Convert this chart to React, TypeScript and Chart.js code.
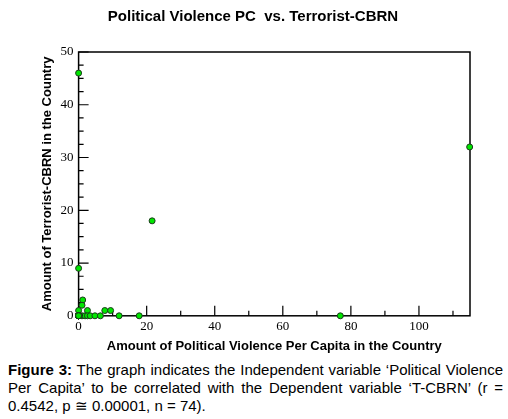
import React, { useEffect, useRef } from 'react';
import { Chart, registerables } from 'chart.js';

Chart.register(...registerables);

// x: political violence per capita, y: terrorist-CBRN count (n = 74)
const polViolencePC: number[] = [
  0, 0, 1.2, 1.0, 0, 2.6, 7.7, 9.4, 1.0, 1.9,
  2.6, 3.4, 4.8, 6.4, 11.9, 17.8, 21.6, 76.9, 114.9, 0,
  0, 0, 0, 0, 0, 0, 0, 0, 0, 0,
  0, 0, 0, 0, 0, 0, 0, 0, 0, 0,
  0, 0, 0, 0, 0, 0, 0, 0, 0, 0,
  0, 0, 0, 0, 0, 0, 0, 0, 0, 0,
  0, 0, 0, 0, 0, 0, 0, 0, 0, 0,
  0, 0, 0, 0,
];
const terroristCBRN: number[] = [
  46, 9, 3, 2, 1, 1, 1, 1, 0, 0,
  0, 0, 0, 0, 0, 0, 18, 0, 32, 0,
  0, 0, 0, 0, 0, 0, 0, 0, 0, 0,
  0, 0, 0, 0, 0, 0, 0, 0, 0, 0,
  0, 0, 0, 0, 0, 0, 0, 0, 0, 0,
  0, 0, 0, 0, 0, 0, 0, 0, 0, 0,
  0, 0, 0, 0, 0, 0, 0, 0, 0, 0,
  0, 0, 0, 0,
];

const xMajorTicks = [0, 20, 40, 60, 80, 100];
const xMinorTicks = [10, 30, 50, 70, 90, 110];
const yMajorTicks = [0, 10, 20, 30, 40, 50];
const yMinorTicks = [2.5, 5, 7.5, 12.5, 15, 17.5, 22.5, 25, 27.5, 32.5, 35, 37.5, 42.5, 45, 47.5];

const sans = 'Liberation Sans, Arial, sans-serif';
const serif = 'Liberation Serif, Times New Roman, serif';

// draws the boxed frame with inward major/minor ticks
const frameTicks = {
  id: 'frameTicks',
  beforeDatasetsDraw(chart: any) {
    const { ctx, chartArea: a, scales } = chart;
    const xs = scales.x;
    const ys = scales.y;
    ctx.save();
    ctx.strokeStyle = '#000';
    ctx.lineWidth = 1.5;
    ctx.strokeRect(a.left, a.top, a.right - a.left, a.bottom - a.top);
    ctx.lineWidth = 1.2;
    ctx.beginPath();
    xMajorTicks.forEach((v) => {
      const px = xs.getPixelForValue(v);
      ctx.moveTo(px, a.bottom);
      ctx.lineTo(px, a.bottom - 10);
    });
    xMinorTicks.forEach((v) => {
      const px = xs.getPixelForValue(v);
      ctx.moveTo(px, a.bottom);
      ctx.lineTo(px, a.bottom - 5);
    });
    yMajorTicks.forEach((v) => {
      const py = ys.getPixelForValue(v);
      ctx.moveTo(a.left, py);
      ctx.lineTo(a.left + 10, py);
    });
    yMinorTicks.forEach((v) => {
      const py = ys.getPixelForValue(v);
      ctx.moveTo(a.left, py);
      ctx.lineTo(a.left + 5, py);
    });
    ctx.stroke();
    ctx.restore();
  },
};

const App: React.FC = () => {
  const canvasRef = useRef<HTMLCanvasElement>(null);

  useEffect(() => {
    if (!canvasRef.current) return;
    const chart = new Chart(canvasRef.current, {
      type: 'scatter',
      data: {
        datasets: [{
          data: polViolencePC.map((x, i) => ({ x, y: terroristCBRN[i] })),
          backgroundColor: '#00e600',
          borderColor: '#1a3a1a',
          borderWidth: 1,
          pointRadius: 3,
          clip: false,
        } as any],
      },
      options: {
        animation: false,
        responsive: false,
        events: [],
        layout: { padding: { left: 36, right: 38, top: 0, bottom: 3 } },
        plugins: {
          legend: { display: false },
          tooltip: { enabled: false },
          title: {
            display: true,
            text: 'Political Violence PC  vs. Terrorist-CBRN',
            color: '#000',
            font: { family: sans, size: 15, weight: 'bold' },
            padding: { top: 8, bottom: 26 },
          },
        },
        scales: {
          x: {
            type: 'linear',
            min: 0,
            max: 115,
            grid: { display: false, drawTicks: false },
            border: { display: false },
            afterBuildTicks: (s: any) => {
              s.ticks = xMajorTicks.map((value) => ({ value }));
            },
            ticks: { color: '#000', padding: 3, font: { family: serif, size: 13 } },
            title: {
              display: true,
              text: 'Amount of Political Violence Per Capita in the Country',
              color: '#000',
              font: { family: sans, size: 13, weight: 'bold' },
              padding: { top: 1, bottom: 3 },
            },
          },
          y: {
            type: 'linear',
            min: 0,
            max: 50,
            grid: { display: false, drawTicks: false },
            border: { display: false },
            afterBuildTicks: (s: any) => {
              s.ticks = yMajorTicks.map((value) => ({ value }));
            },
            ticks: { color: '#000', padding: 5, font: { family: serif, size: 13 } },
            title: {
              display: true,
              text: 'Amount of Terrorist-CBRN in the Country',
              color: '#000',
              font: { family: sans, size: 13, weight: 'bold' },
              padding: { top: 4, bottom: 0 },
            },
          },
        },
      },
      plugins: [frameTicks],
    });
    return () => chart.destroy();
  }, []);

  return (
    <div style={{ position: 'absolute', left: 0, top: 0, width: 508, height: 419, background: '#fff' }}>
      <canvas ref={canvasRef} width={508} height={360} style={{ display: 'block' }} />
      <div
        style={{
          position: 'absolute',
          left: 8,
          top: 361,
          width: 495,
          fontFamily: sans,
          fontSize: 15,
          lineHeight: '18px',
          textAlign: 'justify',
          color: '#000',
        }}
      >
        <b>Figure 3:</b> The graph indicates the Independent variable ‘Political Violence Per Capita’ to be correlated with the Dependent variable ‘T-CBRN’ (r = 0.4542, p ≅ 0.00001, n = 74).
      </div>
    </div>
  );
};

export default App;
